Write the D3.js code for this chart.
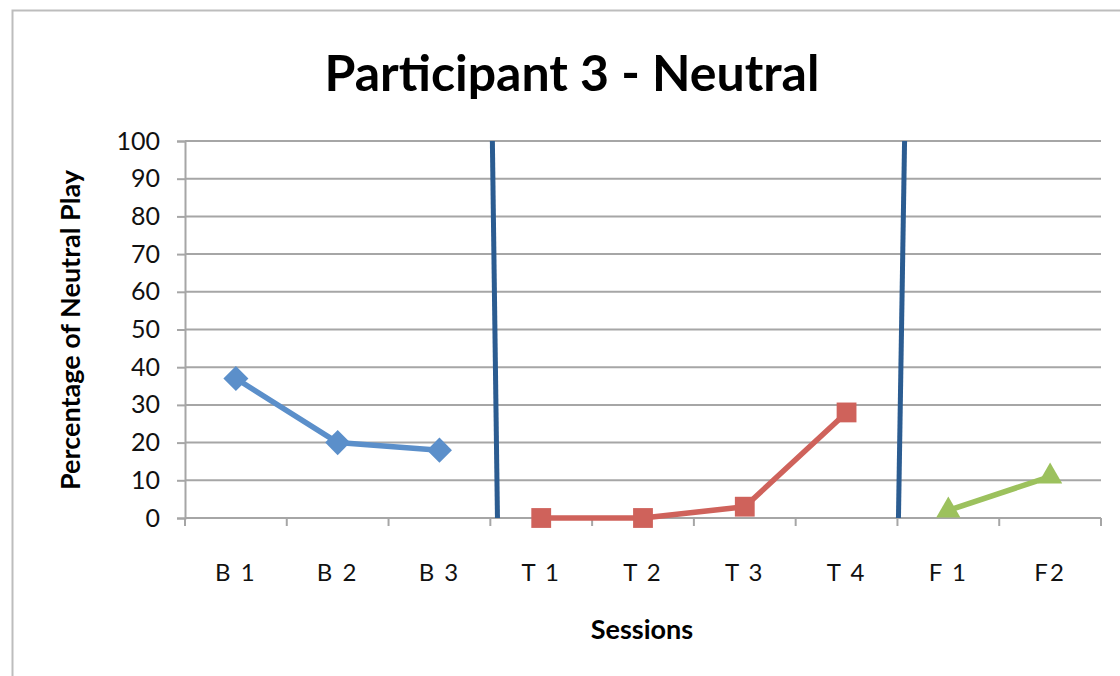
<!DOCTYPE html>
<html>
<head>
<meta charset="utf-8">
<script src="https://cdn.jsdelivr.net/npm/d3@7"></script>
<style>
  html, body { margin: 0; padding: 0; background: #ffffff; }
  svg { display: block; }
</style>
</head>
<body>
<svg id="chart" width="1120" height="676"></svg>
<script>
// Session labels along the x axis
const sessions = ["B 1", "B 2", "B 3", "T 1", "T 2", "T 3", "T 4", "F 1", "F2"];

// Percentage of neutral play per phase
const baselineSessions = ["B 1", "B 2", "B 3"];
const baselineValues = [37, 20, 18];
const treatmentSessions = ["T 1", "T 2", "T 3", "T 4"];
const treatmentValues = [0, 0, 3, 28];
const followupSessions = ["F 1", "F2"];
const followupValues = [2, 11];

// Y axis ticks
const yTicks = [0, 10, 20, 30, 40, 50, 60, 70, 80, 90, 100];

// Phase-change lines, in session-slot units (top end, bottom end)
const phaseLineTop = [3.02, 7.07];
const phaseLineBottom = [3.07, 7.01];

const svg = d3.select("#chart");

const plot = { left: 185, right: 1101, top: 141, bottom: 518 };
const font = "Lato, 'Open Sans', sans-serif";

// Chart frame
svg.append("rect")
  .attr("x", 12.5).attr("y", 10.5)
  .attr("width", 1130).attr("height", 700)
  .attr("fill", "#ffffff")
  .attr("stroke", "#bdbdbd")
  .attr("stroke-width", 2);

const x = d3.scaleBand().domain(sessions).range([plot.left, plot.right]).padding(0);
const slot = d3.scaleLinear().domain([0, sessions.length]).range([plot.left, plot.right]);
const y = d3.scaleLinear().domain([0, 100]).range([plot.bottom, plot.top]);

// Horizontal gridlines
svg.append("g")
  .selectAll("line")
  .data(yTicks)
  .join("line")
  .attr("x1", plot.left).attr("x2", plot.right)
  .attr("y1", d => y(d)).attr("y2", d => y(d))
  .attr("stroke", "#a6a6a6")
  .attr("stroke-width", 2);

// Y axis
const yAxis = svg.append("g")
  .attr("transform", `translate(${plot.left},0)`)
  .call(d3.axisLeft(y).tickValues(yTicks).tickSize(8).tickPadding(17));
yAxis.select(".domain").attr("stroke", "#a6a6a6").attr("stroke-width", 2);
yAxis.selectAll(".tick line").attr("stroke", "#a6a6a6").attr("stroke-width", 2);
yAxis.selectAll(".tick text")
  .attr("font-family", font)
  .attr("font-size", 25)
  .attr("fill", "#111111");

// X axis with ticks on slot boundaries
const xAxis = svg.append("g")
  .attr("transform", `translate(0,${plot.bottom})`);
xAxis.append("line")
  .attr("x1", plot.left).attr("x2", plot.right)
  .attr("stroke", "#a6a6a6").attr("stroke-width", 2);
xAxis.selectAll("line.tick")
  .data(d3.range(sessions.length + 1))
  .join("line")
  .attr("class", "tick")
  .attr("x1", d => slot(d)).attr("x2", d => slot(d))
  .attr("y1", 0).attr("y2", 8)
  .attr("stroke", "#a6a6a6").attr("stroke-width", 2);
xAxis.selectAll("text")
  .data(sessions)
  .join("text")
  .attr("x", d => x(d) + x.bandwidth() / 2)
  .attr("y", 63)
  .attr("text-anchor", "middle")
  .attr("font-family", font)
  .attr("font-size", 24)
  .attr("letter-spacing", 2)
  .attr("fill", "#111111")
  .text(d => d);

// Phase-change lines
svg.append("g")
  .selectAll("line")
  .data(phaseLineTop.map((t, i) => ({ t, b: phaseLineBottom[i] })))
  .join("line")
  .attr("x1", d => slot(d.t)).attr("y1", y(100))
  .attr("x2", d => slot(d.b)).attr("y2", y(0))
  .attr("stroke", "#2b5c91")
  .attr("stroke-width", 5);

const cx = d => x(d) + x.bandwidth() / 2;
const line = d3.line().x(d => cx(d.s)).y(d => y(d.v));

function drawSeries(names, values, color, symbolType, size) {
  const pts = names.map((s, i) => ({ s, v: values[i] }));
  const g = svg.append("g");
  g.append("path")
    .datum(pts)
    .attr("d", line)
    .attr("fill", "none")
    .attr("stroke", color)
    .attr("stroke-width", 5.5)
    .attr("stroke-linejoin", "round");
  g.selectAll("path.marker")
    .data(pts)
    .join("path")
    .attr("class", "marker")
    .attr("transform", d => `translate(${cx(d.s)},${y(d.v)})`)
    .attr("d", d3.symbol().type(symbolType).size(size))
    .attr("fill", color);
}

drawSeries(baselineSessions, baselineValues, "#5b8fca", d3.symbolDiamond2, 400);
drawSeries(treatmentSessions, treatmentValues, "#cf625b", d3.symbolSquare2, 500);
drawSeries(followupSessions, followupValues, "#9cc15d", d3.symbolTriangle2, 420);

// Titles
svg.append("text")
  .attr("x", 572).attr("y", 91)
  .attr("text-anchor", "middle")
  .attr("font-family", font)
  .attr("font-weight", "bold")
  .attr("font-size", 50)
  .attr("fill", "#000000")
  .text("Participant 3 - Neutral");

svg.append("text")
  .attr("x", 642).attr("y", 639)
  .attr("text-anchor", "middle")
  .attr("font-family", font)
  .attr("font-weight", "bold")
  .attr("font-size", 27)
  .attr("fill", "#000000")
  .text("Sessions");

svg.append("text")
  .attr("transform", "translate(80,330) rotate(-90)")
  .attr("text-anchor", "middle")
  .attr("font-family", font)
  .attr("font-weight", "bold")
  .attr("font-size", 27)
  .attr("fill", "#000000")
  .text("Percentage of Neutral Play");
</script>
</body>
</html>
